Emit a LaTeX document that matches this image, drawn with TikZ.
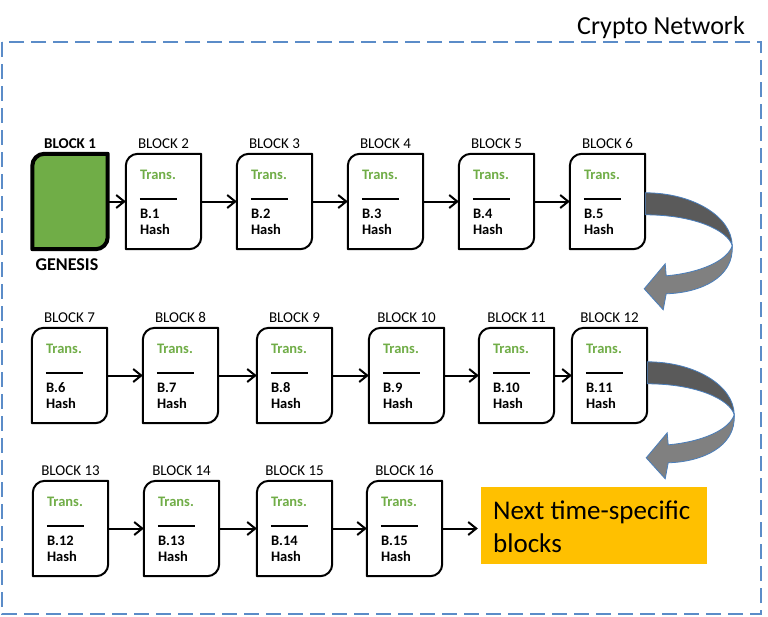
\documentclass[tikz,border=0pt]{standalone}
\usepackage{fontspec}
\setmainfont{Carlito}
\usetikzlibrary{arrows.meta}
\definecolor{framec}{HTML}{5B8CC8}
\definecolor{transg}{HTML}{70AD47}
\definecolor{genfill}{HTML}{70AD47}
\definecolor{nexty}{HTML}{FFC000}
\definecolor{bandd}{HTML}{5A5A5A}
\definecolor{bandl}{HTML}{808080}
\definecolor{bandedge}{HTML}{4A7EBB}

\tikzset{
  blockbox/.style={minimum width=75pt, minimum height=95pt, inner sep=0pt, draw=none},
  blockline/.style={draw=black, line width=2pt, fill=white, line join=round},
  genline/.style={draw=black, line width=4pt, fill=genfill, line join=round},
  blocklabel/.style={anchor=base, inner sep=0pt, font=\fontsize{15}{18}\selectfont},
  genlabel/.style={anchor=base, inner sep=0pt, font=\bfseries\fontsize{15}{18}\selectfont},
  transtext/.style={anchor=base west, inner sep=0pt, text=transg, font=\bfseries\fontsize{14.5}{17}\selectfont},
  hashtext/.style={anchor=base west, inner sep=0pt, font=\bfseries\fontsize{14.5}{17}\selectfont},
  sepline/.style={draw=black, line width=1.5pt},
  chainarrow/.style={draw=black, line width=2pt, -{Straight Barb[length=8pt,width=13pt]}},
  framedash/.style={draw=framec, line width=2.5pt, dash pattern=on 15pt off 7pt},
  nextbox/.style={fill=nexty, draw=none, minimum width=226pt, minimum height=77pt, inner sep=0pt},
  nexttext/.style={anchor=base west, inner sep=0pt, font=\fontsize{27}{33}\selectfont},
  titletext/.style={anchor=base, inner sep=0pt, font=\fontsize{26}{30}\selectfont},
  turnarrow/.pic={
    \fill[bandd, draw=bandedge, line width=0.8pt]
      (0,0) .. controls (48,0) and (87,-24) .. (87,-53)
      .. controls (83,-38) and (50,-22) .. (0,-22) -- cycle;
    \fill[bandl, draw=bandedge, line width=0.8pt, line join=miter]
      (87,-53) .. controls (89,-85) and (55,-100) .. (21,-101)
      -- (18,-117) -- (-1,-96) -- (20,-71) -- (21,-83)
      .. controls (55,-80) and (82,-68) .. (87,-53) -- cycle;
  }
}

\newcommand\chainblock[4]{%
  \node[blockbox] (#1) at (#2) {};
  \draw[blockline] (#1.south west) -- ([yshift=-12pt]#1.north west)
    arc[start angle=180,end angle=90,radius=12pt] -- (#1.north east)
    -- ([yshift=12pt]#1.south east) arc[start angle=0,end angle=-90,radius=12pt] -- cycle;
  \node[blocklabel] (#1-label) at ([yshift=5pt]#1.north) {#3};
  \node[transtext] (#1-trans) at ([xshift=14pt,yshift=-26pt]#1.north west) {Trans.};
  \draw[sepline] ([xshift=14pt,yshift=-45pt]#1.north west) -- ++(37,0);
  \node[hashtext] (#1-prev) at ([xshift=14pt,yshift=-64.5pt]#1.north west) {B.#4};
  \node[hashtext] (#1-hash) at ([xshift=14pt,yshift=-80.5pt]#1.north west) {Hash};
}

\begin{document}
\begin{tikzpicture}[x=1pt,y=1pt]
\useasboundingbox (0,0) rectangle (768,-616);

% frame
\draw[framedash] (2,-42) rectangle (761,-614);
\node[titletext] (title) at (661,-34) {Crypto Network};

% genesis block
\node[blockbox] (b1) at (70,-201.5) {};
\draw[genline] (b1.south west) -- ([yshift=-12pt]b1.north west)
  arc[start angle=180,end angle=90,radius=12pt] -- (b1.north east)
  -- ([yshift=12pt]b1.south east) arc[start angle=0,end angle=-90,radius=12pt] -- cycle;
\node[genlabel] (b1-label) at ([yshift=5pt]b1.north) {BLOCK 1};
\node[anchor=base, inner sep=0pt, font=\bfseries\fontsize{18}{21}\selectfont] (genesis) at (67,-270) {GENESIS};

% row 1
\chainblock{b2}{163.5,-201.5}{BLOCK 2}{1}
\chainblock{b3}{274.5,-201.5}{BLOCK 3}{2}
\chainblock{b4}{385.5,-201.5}{BLOCK 4}{3}
\chainblock{b5}{496.5,-201.5}{BLOCK 5}{4}
\chainblock{b6}{607.5,-201.5}{BLOCK 6}{5}
% row 2
\chainblock{b7}{69.5,-375.5}{BLOCK 7}{6}
\chainblock{b8}{180.5,-375.5}{BLOCK 8}{7}
\chainblock{b9}{294.5,-375.5}{BLOCK 9}{8}
\chainblock{b10}{406.5,-375.5}{BLOCK 10}{9}
\chainblock{b11}{516.5,-375.5}{BLOCK 11}{10}
\chainblock{b12}{609.5,-375.5}{BLOCK 12}{11}
% row 3
\chainblock{b13}{70.5,-528.5}{BLOCK 13}{12}
\chainblock{b14}{181.5,-528.5}{BLOCK 14}{13}
\chainblock{b15}{294.5,-528.5}{BLOCK 15}{14}
\chainblock{b16}{404.5,-528.5}{BLOCK 16}{15}

% next box
\node[nextbox] (next) at (594,-525.5) {};
\node[nexttext] (next-l1) at (493,-519) {Next time-specific};
\node[nexttext] (next-l2) at (493,-552) {blocks};

% connectors
\foreach \a/\b in {b1/b2,b2/b3,b3/b4,b4/b5,b5/b6,b7/b8,b8/b9,b9/b10,b10/b11,b11/b12,b13/b14,b14/b15,b15/b16}
  \draw[chainarrow] (\a.east) -- (\b.west);
\draw[chainarrow, shorten >=3pt] (b16.east) -- (b16.east -| next.west);

% turning arrows
\pic at ([yshift=-39pt]b6.north east) {turnarrow};
\pic at ([yshift=-34pt]b12.north east) {turnarrow};
\end{tikzpicture}
\end{document}
